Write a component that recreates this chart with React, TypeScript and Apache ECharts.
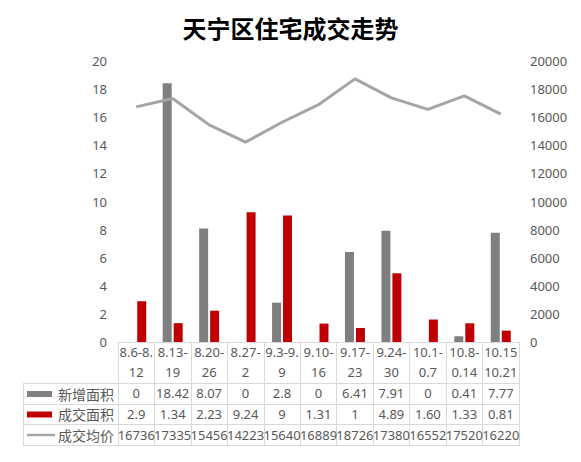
import React, { useEffect, useRef } from "react";
import * as echarts from "echarts";

const title = "天宁区住宅成交走势";
const categories = [
  "8.6-8.12", "8.13-8.19", "8.20-8.26", "8.27-9.2", "9.3-9.9", "9.10-9.16",
  "9.17-9.23", "9.24-9.30", "10.1-10.7", "10.8-10.14", "10.15-10.21",
];
const seriesNames = ["新增面积", "成交面积", "成交均价"];
const newAreaText = ["0", "18.42", "8.07", "0", "2.8", "0", "6.41", "7.91", "0", "0.41", "7.77"];
const dealAreaText = ["2.9", "1.34", "2.23", "9.24", "9", "1.31", "1", "4.89", "1.60", "1.33", "0.81"];
const avgPriceText = ["16736", "17335", "15456", "14223", "15640", "16889", "18726", "17380", "16552", "17520", "16220"];
const leftTicks = { min: 0, max: 20, interval: 2 };
const rightTicks = { min: 0, max: 20000, interval: 2000 };

const colors = ["#7f7f7f", "#c00000", "#a5a5a5"];
const textColor = "#595959";
const borderColor = "#d9d9d9";
const font = "'Noto Sans', 'Noto Sans CJK SC', sans-serif";

function splitCategory(c: string): string {
  if (c.startsWith("10.")) return c.slice(0, 6) + "\n" + c.slice(6);
  const k = c.lastIndexOf(".");
  return c.slice(0, k + 1) + "\n" + c.slice(k + 1);
}

export default function App() {
  const ref = useRef<HTMLDivElement>(null);
  useEffect(() => {
    if (!ref.current) return;
    const chart = echarts.init(ref.current, undefined, { renderer: "svg" });
    const gridLeft = 118;
    const gridRight = 519;
    const axisY = 342;
    const rowLines = [383, 404, 424, 445];
    const tableLeft = 23;
    const rowTexts = [newAreaText, dealAreaText, avgPriceText];
    const rowOffsets = [41, 62, 83];

    const tableAxes = rowTexts.map((arr, r) => ({
      type: "category",
      data: categories,
      gridIndex: 0,
      position: "bottom",
      offset: rowOffsets[r],
      axisLine: { show: false },
      axisTick: { show: false },
      splitLine: { show: false },
      axisLabel: {
        interval: 0,
        margin: 0,
        fontSize: 13,
        lineHeight: 20,
        color: textColor,
        fontFamily: font,
        formatter: (_v: string, i: number) => arr[i],
      },
    }));

    const graphics: any[] = [];
    rowLines.forEach((y) => {
      graphics.push({
        type: "line",
        shape: { x1: tableLeft, y1: y + 0.5, x2: gridRight + 0.5, y2: y + 0.5 },
        style: { stroke: borderColor, lineWidth: 1 },
        silent: true,
      });
    });
    graphics.push({
      type: "line",
      shape: { x1: tableLeft + 0.5, y1: rowLines[0], x2: tableLeft + 0.5, y2: rowLines[3] + 1 },
      style: { stroke: borderColor, lineWidth: 1 },
      silent: true,
    });
    seriesNames.forEach((name, r) => {
      const cy = (rowLines[r] + rowLines[r + 1]) / 2 + 0.5;
      if (r < 2) {
        graphics.push({
          type: "rect",
          shape: { x: 27, y: cy - 3, width: 25, height: 6 },
          style: { fill: colors[r] },
          silent: true,
        });
      } else {
        graphics.push({
          type: "line",
          shape: { x1: 27, y1: cy, x2: 55, y2: cy },
          style: { stroke: colors[r], lineWidth: 2.5 },
          silent: true,
        });
      }
      graphics.push({
        type: "text",
        x: 58,
        y: cy,
        style: {
          text: name,
          fontSize: 14,
          fill: textColor,
          fontFamily: font,
          verticalAlign: "middle",
          align: "left",
        },
        silent: true,
      });
    });

    chart.setOption({
      animation: false,
      backgroundColor: "#ffffff",
      title: {
        text: title,
        left: "center",
        top: 10,
        textStyle: { fontSize: 24, fontWeight: "bold", color: "#000000", fontFamily: "'Noto Sans CJK SC', sans-serif" },
      },
      grid: { left: gridLeft, right: 581 - gridRight, top: 61, bottom: 462 - axisY },
      xAxis: [
        {
          type: "category",
          data: categories,
          gridIndex: 0,
          position: "bottom",
          axisLine: { show: true, lineStyle: { color: borderColor, width: 1 } },
          axisTick: { show: true, interval: 0, length: rowLines[3] - axisY + 1, lineStyle: { color: borderColor, width: 1 } },
          splitLine: { show: false },
          axisLabel: {
            interval: 0,
            margin: 0,
            fontSize: 13,
            lineHeight: 20,
            color: textColor,
            fontFamily: font,
            width: 35,
            overflow: "truncate",
            ellipsis: "",
            formatter: (v: string) => splitCategory(v),
          },
        },
        ...tableAxes,
      ],
      yAxis: [
        {
          type: "value",
          ...leftTicks,
          axisLine: { show: false },
          axisTick: { show: false },
          splitLine: { show: false },
          axisLabel: { fontSize: 13, color: textColor, fontFamily: font, margin: 11, formatter: (v: number) => String(v) },
        },
        {
          type: "value",
          ...rightTicks,
          position: "right",
          axisLine: { show: false },
          axisTick: { show: false },
          splitLine: { show: false },
          axisLabel: { fontSize: 13, color: textColor, fontFamily: font, margin: 11, formatter: (v: number) => String(v) },
        },
      ],
      series: [
        {
          name: seriesNames[0],
          type: "bar",
          data: newAreaText.map(Number),
          barWidth: 9,
          barGap: "22%",
          itemStyle: { color: colors[0] },
        },
        {
          name: seriesNames[1],
          type: "bar",
          data: dealAreaText.map(Number),
          barWidth: 9,
          barGap: "22%",
          itemStyle: { color: colors[1] },
        },
        {
          name: seriesNames[2],
          type: "line",
          yAxisIndex: 1,
          data: avgPriceText.map(Number),
          symbol: "none",
          lineStyle: { color: colors[2], width: 3 },
          itemStyle: { color: colors[2] },
        },
      ],
      graphic: graphics,
    });
    return () => chart.dispose();
  }, []);
  return <div ref={ref} style={{ position: "fixed", left: 0, top: 0, width: 581, height: 462 }} />;
}
